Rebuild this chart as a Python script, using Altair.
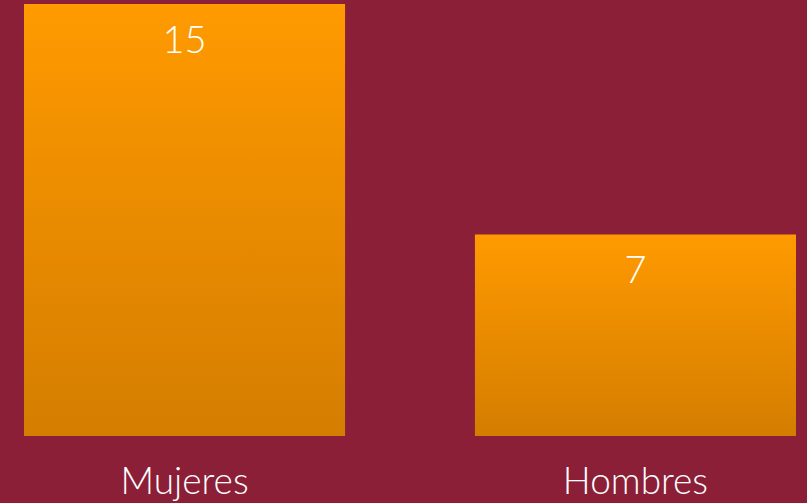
import altair as alt
import pandas as pd

categories = ["Mujeres", "Hombres"]
values = [15, 7]

df = pd.DataFrame({"cat": categories, "val": values})

BG = "#8B1F38"
grad = alt.LinearGradient(
    gradient="linear", x1=0, y1=0, x2=0, y2=1,
    stops=[alt.GradientStop(color="#FF9A00", offset=0),
           alt.GradientStop(color="#D47D00", offset=1)],
)

x = alt.X("cat:N", sort=categories, title=None,
          scale=alt.Scale(paddingInner=0.288, paddingOuter=0),
          axis=alt.Axis(domain=False, ticks=False, labelAngle=0,
                        labelFont="Lato", labelFontWeight=300, labelFontSize=37,
                        labelColor="white", labelPadding=28))
y = alt.Y("val:Q", title=None, scale=alt.Scale(domain=[0, 15], nice=False, zero=True), axis=None)

bars = alt.Chart(df).mark_bar(color=grad).encode(x=x, y=y)
text = alt.Chart(df).mark_text(baseline="alphabetic", dy=49, font="Lato", fontWeight=300,
                               fontSize=38, color="white").encode(x=x, y=y, text="val:Q")

chart = alt.layer(bars, text).properties(
    width=772, height=432, background=BG,
    autosize=alt.AutoSizeParams(type="none"),
    padding={"left": 24, "top": 4, "right": 11, "bottom": 67},
).configure_view(stroke=None)

chart.save("out.html", embed_options={"renderer": "svg", "actions": False})
